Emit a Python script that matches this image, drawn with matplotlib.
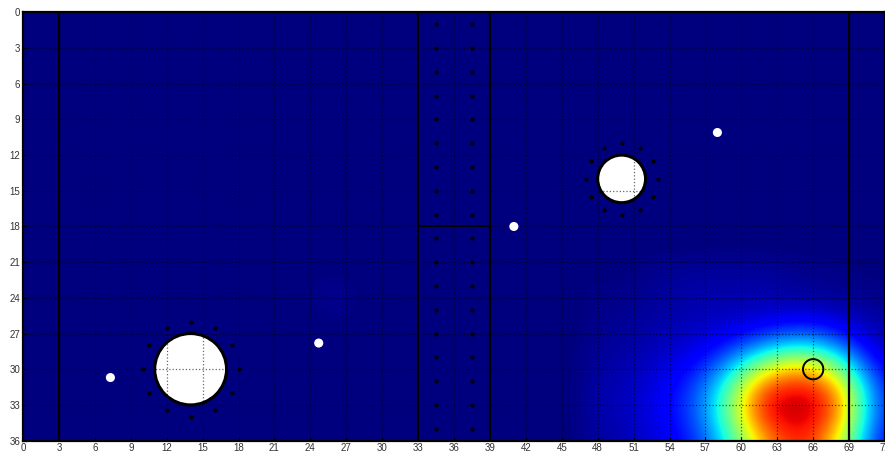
import numpy as np
import matplotlib
matplotlib.use("Agg")
import matplotlib.pyplot as plt
from matplotlib.patches import Circle

plt.rcParams["font.family"] = ["Liberation Sans", "DejaVu Sans"]

# pitch extent
x_max, y_max = 72, 36
tick_step = 3

# heat field sampled every 2 units; only the non-zero block is listed
grid_step = 2
heat_x0, heat_y0 = 48, 22  # top-left node of the block
heat_block = [
    [0.00, 0.00, 0.01, 0.02, 0.03, 0.03, 0.03, 0.03, 0.02, 0.01, 0.01, 0.00, 0.00],
    [0.01, 0.01, 0.02, 0.03, 0.04, 0.04, 0.04, 0.04, 0.03, 0.03, 0.02, 0.02, 0.01],
    [0.01, 0.02, 0.03, 0.04, 0.05, 0.06, 0.07, 0.09, 0.11, 0.11, 0.08, 0.05, 0.03],
    [0.02, 0.03, 0.04, 0.06, 0.08, 0.12, 0.19, 0.27, 0.33, 0.33, 0.25, 0.13, 0.05],
    [0.03, 0.04, 0.06, 0.09, 0.14, 0.24, 0.42, 0.61, 0.72, 0.71, 0.53, 0.28, 0.11],
    [0.04, 0.05, 0.08, 0.12, 0.20, 0.35, 0.62, 0.87, 0.93, 0.92, 0.77, 0.41, 0.16],
    [0.04, 0.05, 0.08, 0.12, 0.20, 0.36, 0.63, 0.88, 0.94, 0.92, 0.78, 0.41, 0.16],
    [0.03, 0.04, 0.07, 0.10, 0.16, 0.29, 0.50, 0.73, 0.86, 0.85, 0.63, 0.33, 0.12],
]
# isolated faint spots elsewhere on the field
faint_x = [26]
faint_y = [24]
faint_v = [0.03]

# court markings
wall_x = [3, 33, 39, 69]
split_y = 18
split_x0, split_x1 = 33, 39
lane_dot_x = [34.5, 37.5]
lane_dot_y = list(range(1, 36, 2))

# large white zones with a dotted ring around them
zone_x = [14, 50]
zone_y = [30, 14]
zone_r = [3.0, 2.0]
ring_r = [4.0, 3.0]

# single players / points
point_x = [7.3, 24.7, 41.0, 58.0]
point_y = [30.7, 27.8, 18.0, 10.1]

# target marker
target_x, target_y, target_r = 66, 30, 0.85

# build full field
ny = y_max // grid_step + 1
nx = x_max // grid_step + 1
field = np.zeros((ny, nx))
block = np.array(heat_block)
r0, c0 = heat_y0 // grid_step, heat_x0 // grid_step
field[r0:r0 + block.shape[0], c0:c0 + block.shape[1]] = block
for fx, fy, fv in zip(faint_x, faint_y, faint_v):
    field[fy // grid_step, fx // grid_step] = fv

fig = plt.figure(figsize=(8.85, 4.58), dpi=100)
ax = fig.add_axes([0.026, 0.038, 0.974, 0.935])

half = grid_step / 2
ax.imshow(field, cmap="jet", vmin=0, vmax=1, interpolation="bicubic",
          extent=[-half, x_max + half, y_max + half, -half], aspect="auto", zorder=0)

for x in wall_x:
    ax.plot([x, x], [0, y_max], color="k", lw=1.6, zorder=2)
ax.plot([split_x0, split_x1], [split_y, split_y], color="k", lw=1.4, zorder=2)

lx, ly = np.meshgrid(lane_dot_x, lane_dot_y)
ax.plot(lx.ravel(), ly.ravel(), "o", color="k", ms=2.0, zorder=2)

angles = np.deg2rad(np.arange(0, 360, 30))
for cx, cy, r, rr in zip(zone_x, zone_y, zone_r, ring_r):
    ax.add_patch(Circle((cx, cy), r, facecolor="white", edgecolor="k", lw=2.2, zorder=1.5))
    ax.plot(cx + rr * np.cos(angles), cy + rr * np.sin(angles), "o", color="k", ms=2.0, zorder=2)

for px, py in zip(point_x, point_y):
    ax.add_patch(Circle((px, py), 0.38, facecolor="white", edgecolor="none", zorder=3))

ax.add_patch(Circle((target_x, target_y), target_r, facecolor="none", edgecolor="k", lw=1.4, zorder=3))

ax.set_xlim(0, x_max)
ax.set_ylim(y_max, 0)
ax.set_xticks(np.arange(0, x_max + 1, tick_step))
ax.set_yticks(np.arange(0, y_max + 1, tick_step))
ax.set_axisbelow(False)
ax.grid(True, color="k", alpha=0.6, linestyle=":", lw=0.9)
ax.tick_params(direction="in", length=3, width=0.8, labelsize=7, labelcolor="#333333", pad=2)
for s in ax.spines.values():
    s.set_linewidth(1.6)
    s.set_color("k")

fig.savefig("out.png", dpi=100)
